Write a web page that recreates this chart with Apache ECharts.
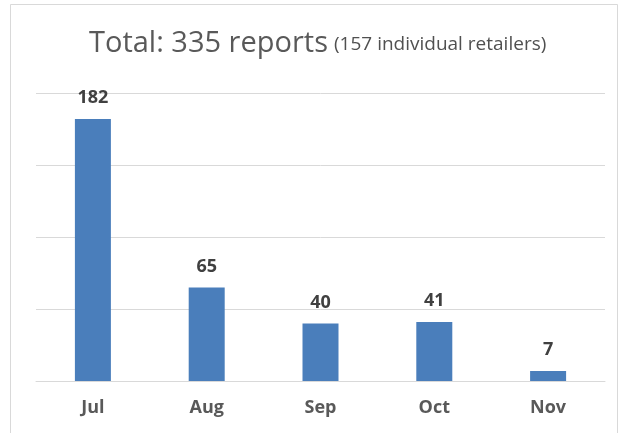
<!DOCTYPE html>
<html><head><meta charset="utf-8">
<script src="https://cdn.jsdelivr.net/npm/echarts@6/dist/echarts.min.js"></script>
<style>html,body{margin:0;padding:0;background:#fff}#c{width:624px;height:433px}</style>
</head><body><div id="c"></div>
<script>
const categories = ['Jul', 'Aug', 'Sep', 'Oct', 'Nov'];
const reports = [182, 65, 40, 41, 7];
const titleMain = 'Total: 335 reports';
const titleSub = '(157 individual retailers)';

const chart = echarts.init(document.getElementById('c'), null, {renderer: 'canvas'});
chart.setOption({
  backgroundColor: '#fff',
  animation: false,
  graphic: [{
    type: 'polyline', silent: true,
    shape: {points: [[10.5, 433], [10.5, 4.5], [617.5, 4.5], [617.5, 433]]},
    style: {stroke: '#d9d9d9', lineWidth: 1, fill: null}
  }, {
    type: 'text', left: 89, top: 29, silent: true,
    style: {text: titleMain, fontFamily: 'Open Sans', fontSize: 29, fontWeight: 'normal', fill: '#595959'}
  }, {
    type: 'text', left: 334, top: 35, silent: true,
    style: {text: titleSub, fontFamily: 'Open Sans', fontSize: 19, fontWeight: 'normal', fill: '#505050'}
  }],
  grid: {left: 36, right: 19, top: 93, bottom: 52},
  xAxis: {
    type: 'category', data: categories,
    axisLine: {lineStyle: {color: '#d9d9d9', width: 1}},
    axisTick: {show: false},
    axisLabel: {color: '#595959', fontFamily: 'Open Sans', fontWeight: 'bold', fontSize: 18, margin: 18}
  },
  yAxis: {
    type: 'value', min: 0, max: 200, interval: 50,
    axisLabel: {show: false}, axisLine: {show: false}, axisTick: {show: false},
    splitLine: {lineStyle: {color: '#d9d9d9', width: 1}}
  },
  series: [{
    type: 'bar', data: reports, barWidth: 36,
    itemStyle: {color: '#4a7ebb'},
    label: {show: true, position: 'top', distance: 12, color: '#404040',
      fontFamily: 'Open Sans', fontWeight: 'bold', fontSize: 18}
  }]
});
</script></body></html>
